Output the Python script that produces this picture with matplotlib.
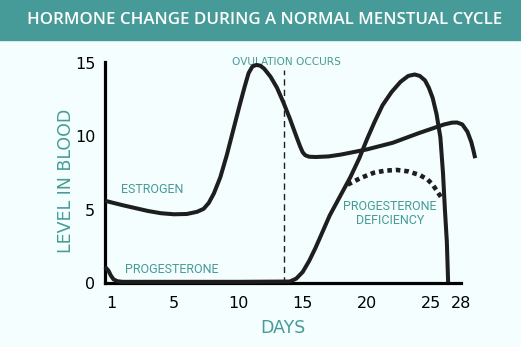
import matplotlib.pyplot as plt
import matplotlib.patches as patches

# Hormone levels over the cycle (x in days, y in relative blood level)
estrogen_day = [-0.36, 1.0, 2.0, 3.0, 4.0, 5.0, 6.0, 6.8, 7.3, 7.7, 8.1, 8.6, 9.1,
                9.6, 10.1, 10.5, 10.8, 11.1, 11.4, 11.7, 12.0, 12.5, 13.0, 13.5,
                14.0, 14.5, 14.8, 15.0, 15.2, 15.5, 16.0, 17.0, 18.0, 20.0, 22.0,
                24.0, 26.0, 26.6, 27.0, 27.4, 27.8, 28.1, 28.3, 28.4]
estrogen_level = [5.6, 5.3, 5.1, 4.9, 4.75, 4.68, 4.7, 4.85, 5.05, 5.45, 6.1, 7.2,
                  8.7, 10.4, 12.1, 13.4, 14.3, 14.75, 14.85, 14.8, 14.6, 14.05,
                  13.3, 12.3, 11.2, 10.0, 9.3, 8.9, 8.7, 8.6, 8.58, 8.62, 8.75,
                  9.1, 9.55, 10.2, 10.8, 10.92, 10.93, 10.8, 10.3, 9.6, 8.9, 8.5]

progesterone_day = [-0.36, -0.1, 0.1, 0.3, 0.6, 1.0, 5.0, 10.0, 14.0, 14.5, 15.0,
                    15.5, 16.0, 16.5, 17.1, 17.9, 18.7, 19.4, 20.0, 20.6, 21.2,
                    21.9, 22.6, 23.2, 23.7, 24.1, 24.5, 24.8, 25.1, 25.4, 25.7,
                    25.9, 26.05, 26.2, 26.3]
progesterone_level = [1.1, 0.85, 0.5, 0.25, 0.12, 0.08, 0.08, 0.08, 0.1, 0.3,
                      0.75, 1.5, 2.4, 3.4, 4.6, 5.9, 7.2, 8.5, 9.8, 11.0, 12.1,
                      13.0, 13.7, 14.1, 14.2, 14.1, 13.8, 13.3, 12.6, 11.5, 9.9,
                      7.5, 5.0, 2.8, 0.05]

deficiency_day = [18.5, 19.5, 20.5, 21.4, 22.3, 23.2, 24.1, 24.7, 25.1, 25.9]
deficiency_level = [6.7, 7.15, 7.5, 7.65, 7.7, 7.6, 7.35, 7.05, 6.7, 5.65]

tick_pos = [0.1, 5, 10, 15, 20, 25, 27.3]
tick_labels = ["1", "5", "10", "15", "20", "25", "28"]
ovulation_day = 13.55

teal = "#469b98"
ink = "#1e1e1e"
bg = "#f4fefe"

fig = plt.figure(figsize=(5.21, 3.47), dpi=100)
fig.patch.set_facecolor(bg)

# title banner
fig.patches.append(patches.Rectangle((0, 1 - 40 / 347), 1, 40 / 347,
                                     transform=fig.transFigure, color=teal, zorder=0))
fig.text(0.507, 1 - 20 / 347, "HORMONE CHANGE DURING A NORMAL MENSTUAL CYCLE",
         color="white", fontsize=12.2, ha="center", va="center",
         family="Open Sans", weight="semibold")

ax = fig.add_axes([105 / 521, 1 - 283 / 347, 356 / 521, 221 / 347])
ax.set_facecolor(bg)
ax.set_xlim(-0.36, 27.3)
ax.set_ylim(0, 15.05)

for side in ["top", "right"]:
    ax.spines[side].set_visible(False)
for side in ["left", "bottom"]:
    ax.spines[side].set_linewidth(2.3)
    ax.spines[side].set_color("black")
ax.spines["left"].set_bounds(0, 15.05)

ax.set_yticks([0, 5, 10, 15])
ax.set_yticklabels(["0", "5", "10", "15"])
ax.set_xticks(tick_pos)
ax.set_xticklabels(tick_labels)
ax.tick_params(axis="both", length=0, labelsize=11.5, labelcolor="black")
ax.tick_params(axis="y", pad=7)
ax.tick_params(axis="x", pad=9)

ax.set_ylabel("LEVEL IN BLOOD", color=teal, fontsize=12.5, labelpad=0)
ax.yaxis.label.set_y(0.4615)
ax.set_xlabel("DAYS", color=teal, fontsize=12.5, labelpad=6)

# ovulation marker
ax.axvline(ovulation_day, ymin=0, ymax=0.964, color=ink, lw=1.0,
           linestyle=(0, (4.5, 3)), zorder=2)
ax.text(ovulation_day + 0.15, 15.06, "OVULATION OCCURS", color=teal, fontsize=7.6,
        ha="center", va="center")

line_kw = dict(color=ink, lw=2.9, solid_capstyle="butt", solid_joinstyle="round",
               clip_on=False, zorder=3)
ax.plot(estrogen_day, estrogen_level, **line_kw)
ax.plot(progesterone_day, progesterone_level, **line_kw)
ax.plot(deficiency_day, deficiency_level, color=ink, lw=3.3,
        linestyle=(0, (1, 0.85)), dash_capstyle="butt", clip_on=False, zorder=3)

label_kw = dict(color=teal, fontsize=9, family="Roboto", ha="center", va="center")
ax.text(3.3, 6.4, "ESTROGEN", **label_kw)
ax.text(4.85, 0.95, "PROGESTERONE", **label_kw)
ax.text(21.8, 4.7, "PROGESTERONE\nDEFICIENCY", linespacing=1.1, **label_kw)

fig.savefig("out.png", dpi=100, facecolor=bg)
